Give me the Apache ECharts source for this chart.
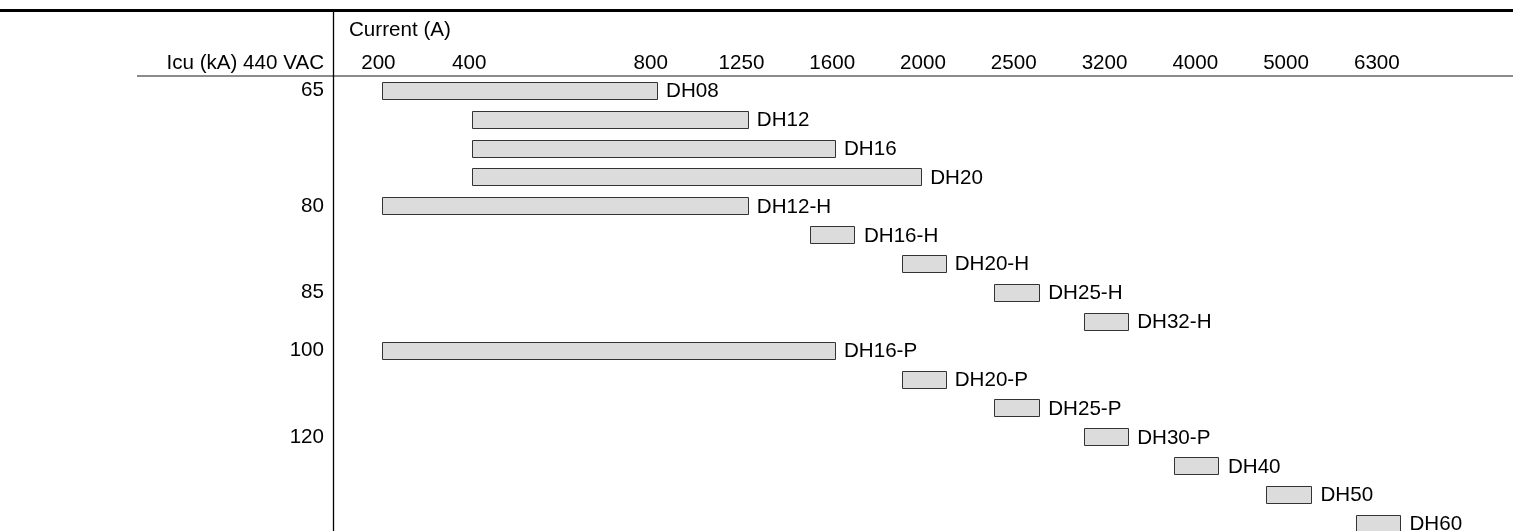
<!DOCTYPE html>
<html>
<head>
<meta charset="utf-8">
<script src="https://cdn.jsdelivr.net/npm/echarts@6/dist/echarts.min.js"></script>
<style>
html,body{margin:0;padding:0;background:#fff;}
#chart{width:1523px;height:531px;}
</style>
</head>
<body>
<div id="chart"></div>
<script>
// Current ratings shown as column headers (one column per rating; blank = empty column)
var currentTicks = ['200', '400', '', '800', '1250', '1600', '2000', '2500', '3200', '4000', '5000', '6300', ''];
// Breaking capacity labels per row
var icuLabels = ['65', '', '', '', '80', '', '', '85', '', '100', '', '', '120', '', '', ''];
// Product names per row
var products = ['DH08', 'DH12', 'DH16', 'DH20', 'DH12-H', 'DH16-H', 'DH20-H', 'DH25-H', 'DH32-H',
                'DH16-P', 'DH20-P', 'DH25-P', 'DH30-P', 'DH40', 'DH50', 'DH60'];
// Bar extents in column units (column i spans [i, i+1])
var barStart = [0.54, 1.53, 1.53, 1.53, 0.54, 5.26, 6.27, 7.28, 8.27, 0.54, 6.27, 7.28, 8.27, 9.27, 10.28, 11.27];
var barEnd   = [3.57, 4.57, 5.53, 6.48, 4.57, 5.75, 6.75, 7.78, 8.76, 5.53, 6.75, 7.78, 8.76, 9.76, 10.78, 11.76];

var FONT = '"Liberation Sans", Arial, Helvetica, sans-serif';
var FS = 20.6;
var rowIdx = products.map(function (_, i) { return String(i); });
var seriesData = products.map(function (p, i) { return [barStart[i], barEnd[i], i, p]; });

var chart = echarts.init(document.getElementById('chart'));
chart.setOption({
  animation: false,
  backgroundColor: '#fff',
  grid: { left: 333, top: 76, width: 1180, height: 462, containLabel: false, outerBoundsMode: 'none' },
  xAxis: [
    {
      type: 'category', data: currentTicks, position: 'top', boundaryGap: true,
      axisLine: { show: false }, axisTick: { show: false }, splitLine: { show: false },
      axisLabel: { interval: 0, margin: 2, color: '#000', fontSize: FS, fontFamily: FONT }
    },
    {
      type: 'value', min: 0, max: 13, show: false
    }
  ],
  yAxis: {
    type: 'category', data: rowIdx, inverse: true,
    axisLine: { show: false }, axisTick: { show: false }, splitLine: { show: false },
    axisLabel: {
      interval: 0, margin: 9, color: '#000', fontSize: FS, fontFamily: FONT,
      formatter: function (v) { return icuLabels[+v]; }
    }
  },
  graphic: [
    { type: 'line', shape: { x1: 0, y1: 10.5, x2: 1513, y2: 10.5 }, style: { stroke: '#000', lineWidth: 3 } },
    { type: 'line', shape: { x1: 137, y1: 76, x2: 1513, y2: 76 }, style: { stroke: '#666', lineWidth: 1.3 } },
    { type: 'line', shape: { x1: 333.5, y1: 10, x2: 333.5, y2: 531 }, style: { stroke: '#000', lineWidth: 1.3 } },
    { type: 'text', left: 349, top: 20, style: { text: 'Current (A)', fill: '#000', font: FS + 'px ' + FONT } },
    { type: 'text', right: 1523 - 324, top: 53, style: { text: 'Icu (kA) 440 VAC', fill: '#000', font: FS + 'px ' + FONT } }
  ],
  series: [{
    type: 'custom',
    xAxisIndex: 1,
    yAxisIndex: 0,
    data: seriesData,
    renderItem: function (params, api) {
      var s = api.coord([api.value(0), api.value(2)]);
      var e = api.coord([api.value(1), api.value(2)]);
      var h = api.size([0, 1])[1] * 0.6;
      var name = products[params.dataIndex];
      return {
        type: 'group',
        children: [
          {
            type: 'rect',
            shape: { x: Math.round(s[0]) + 0.5, y: Math.round(s[1] - h / 2) + 0.5, width: Math.round(e[0] - s[0]), height: Math.round(h) },
            style: { fill: '#dcdcdc', stroke: '#333', lineWidth: 1 }
          },
          {
            type: 'text',
            style: { x: e[0] + 9, y: s[1] + 1, text: name, fill: '#000', font: FS + 'px ' + FONT, verticalAlign: 'middle', align: 'left' }
          }
        ]
      };
    }
  }]
});
</script>
</body>
</html>
